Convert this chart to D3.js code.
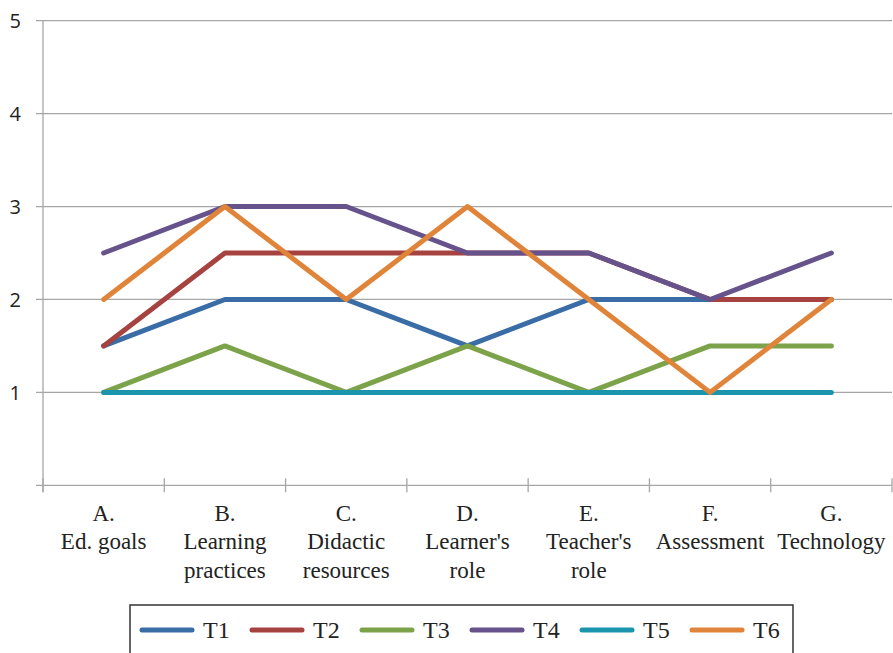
<!DOCTYPE html>
<html><head><meta charset="utf-8">
<script src="https://cdn.jsdelivr.net/npm/d3@7"></script>
<style>
html,body{margin:0;padding:0;background:#fff;}
svg{display:block;}
</style></head>
<body><svg id="c" width="893" height="653"></svg>
<script>
const categories = [["A.","Ed. goals"],["B.","Learning","practices"],["C.","Didactic","resources"],["D.","Learner's","role"],["E.","Teacher's","role"],["F.","Assessment"],["G.","Technology"]];
const seriesNames = ["T1","T2","T3","T4","T5","T6"];
const T1 = [1.5,2,2,1.5,2,2,2];
const T2 = [1.5,2.5,2.5,2.5,2.5,2,2];
const T3 = [1,1.5,1,1.5,1,1.5,1.5];
const T4 = [2.5,3,3,2.5,2.5,2,2.5];
const T5 = [1,1,1,1,1,1,1];
const T6 = [2,3,2,3,2,1,2];
const yTicks = [0,1,2,3,4,5];
const colors = ["#3A6CA6","#A6423F","#7CA34A","#67538B","#1B94AE","#E0843A"];
const seriesValues = [T1,T2,T3,T4,T5,T6];

const serif = "Liberation Serif";
const sans = "Open Sans";
const svg = d3.select("#c");
const catKeys = categories.map((d,i)=>i);
const x = d3.scaleBand().domain(catKeys).range([43,892]);
const y = d3.scaleLinear().domain([0,5]).range([485.3,20.7]);
const grid = "#A6A6A6";

// gridlines
svg.append("g").selectAll("line").data(yTicks.filter(d=>d>0)).join("line")
  .attr("x1",36).attr("x2",892).attr("y1",d=>y(d)).attr("y2",d=>y(d))
  .attr("stroke",grid).attr("stroke-width",1.3);
// y axis
svg.append("line").attr("x1",43).attr("x2",43).attr("y1",y(5)).attr("y2",y(0)+7)
  .attr("stroke",grid).attr("stroke-width",1.3);
// x axis
svg.append("line").attr("x1",36).attr("x2",892).attr("y1",y(0)).attr("y2",y(0))
  .attr("stroke",grid).attr("stroke-width",1.3);
const bounds = catKeys.map(k=>x(k)).concat([x.range()[1]]);
svg.append("g").selectAll("line").data(bounds).join("line")
  .attr("x1",d=>d).attr("x2",d=>d).attr("y1",y(0)-7).attr("y2",y(0)+7)
  .attr("stroke",grid).attr("stroke-width",1.3);
// y labels
svg.append("g").selectAll("text").data(yTicks.filter(d=>d>0)).join("text")
  .attr("x",21).attr("y",d=>y(d)).attr("dy","0.36em").attr("text-anchor","end")
  .style("font-family",sans).style("font-size","20px").attr("fill","#222")
  .text(d=>d);
// x labels
const xl = svg.append("g").selectAll("text").data(categories).join("text")
  .attr("x",(d,i)=>x(i)+x.bandwidth()/2).attr("y",521).attr("text-anchor","middle")
  .style("font-family",serif).style("font-size","23px").attr("fill","#222");
xl.selectAll("tspan").data(d=>d).join("tspan")
  .attr("x",function(){return this.parentNode.getAttribute("x");})
  .attr("dy",(d,i)=>i===0?0:28.3).text(d=>d);

// lines
const line = d3.line().x((d,i)=>x(i)+x.bandwidth()/2).y(d=>y(d));
svg.append("g").selectAll("path").data(seriesValues).join("path")
  .attr("d",line).attr("fill","none").attr("stroke",(d,i)=>colors[i])
  .attr("stroke-width",5).attr("stroke-linejoin","round").attr("stroke-linecap","round");

// legend
svg.append("rect").attr("x",130).attr("y",605).attr("width",663).attr("height",60)
  .attr("fill","none").attr("stroke","#333").attr("stroke-width",1.5);
const lx = d3.scalePoint().domain(seriesNames).range([142,692]);
const lg = svg.append("g").selectAll("g").data(seriesNames).join("g")
  .attr("transform",d=>`translate(${lx(d)},630)`);
lg.append("line").attr("x1",0).attr("x2",50).attr("y1",0).attr("y2",0)
  .attr("stroke",(d,i)=>colors[i]).attr("stroke-width",5).attr("stroke-linecap","round");
lg.append("text").attr("x",61).attr("y",8).style("font-family",serif)
  .style("font-size","24px").attr("fill","#222").text(d=>d);
</script></body></html>
